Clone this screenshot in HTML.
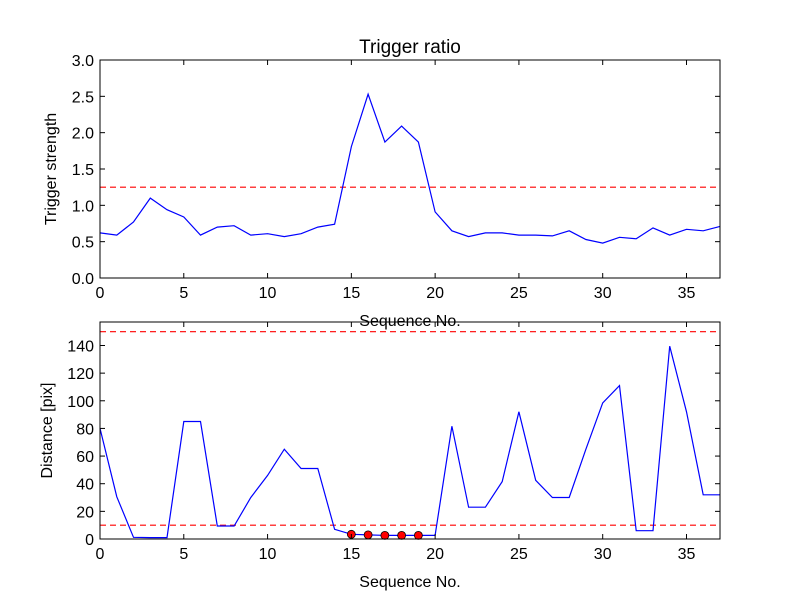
<!DOCTYPE html>
<html><head><meta charset="utf-8"><style>
body{margin:0;background:#fff;}
svg text{font-family:"Liberation Sans",sans-serif;fill:#000;}
</style></head><body>
<svg id="c" width="800" height="600" xmlns="http://www.w3.org/2000/svg">
<rect width="800" height="600" fill="#fff"/>
</svg>
<script>
const seq = [0,1,2,3,4,5,6,7,8,9,10,11,12,13,14,15,16,17,18,19,20,21,22,23,24,25,26,27,28,29,30,31,32,33,34,35,36,37];
const strength = [0.62,0.59,0.77,1.10,0.94,0.84,0.59,0.70,0.72,0.59,0.61,0.57,0.61,0.70,0.74,1.81,2.53,1.87,2.09,1.87,0.91,0.65,0.57,0.62,0.62,0.59,0.59,0.58,0.65,0.53,0.48,0.56,0.54,0.69,0.59,0.67,0.65,0.71];
const distance = [80,30.5,1.2,1,1,85,85,9.4,9.4,30,46,65,51,51,7,3.4,3,2.6,2.6,2.6,2.6,81.6,23,23,41.5,92,42.5,30,30,65,98.5,111,6,6,139.5,92,32,32];
const markedIdx = [15,16,17,18,19];
const strengthThreshold = [1.25];
const distThresholds = [10,150];
const xTicks = [0,5,10,15,20,25,30,35];
const yTicksTop = [0.0,0.5,1.0,1.5,2.0,2.5,3.0];
const yTicksBot = [0,20,40,60,80,100,120,140];

const svg = document.getElementById('c');
const NS = 'http://www.w3.org/2000/svg';
function mk(tag, attrs){const e=document.createElementNS(NS,tag);for(const k in attrs)e.setAttribute(k,attrs[k]);svg.appendChild(e);return e;}

function panel(p){
  const L=100,R=720;
  const xs=v=>L+(v-0)/(37-0)*(R-L);
  const ys=v=>p.bottom-(v-p.ymin)/(p.ymax-p.ymin)*(p.bottom-p.top);
  // thresholds
  p.thr.forEach(t=>{
    const l=mk('line',{x1:L,x2:R,y1:ys(t),y2:ys(t),stroke:'#f00','stroke-width':1.2,'stroke-dasharray':'6,4'});
    
    
  });
  const pts=p.data.map((v,i)=>xs(seq[i]).toFixed(1)+','+ys(v).toFixed(1)).join(' ');
  const pl=mk('polyline',{points:pts,fill:'none',stroke:'#00f','stroke-width':1.2});
  
  
  if(p.marks){p.marks.forEach(i=>{
    const c=mk('circle',{cx:xs(seq[i]),cy:ys(p.data[i]),r:4,fill:'#f00',stroke:'#000','stroke-width':0.8});
    
    
  });}
  const fr=mk('rect',{x:L,y:p.top,width:R-L,height:p.bottom-p.top,fill:'none',stroke:'#000','stroke-width':1});
  
  
  xTicks.forEach(t=>{
    const x=xs(t);
    mk('line',{x1:x,x2:x,y1:p.bottom,y2:p.bottom-5,stroke:'#000'});
    mk('line',{x1:x,x2:x,y1:p.top,y2:p.top+5,stroke:'#000'});
    const tx=mk('text',{x:x,y:p.bottom+20,'font-size':16,'text-anchor':'middle'});
    tx.textContent=t;
    
    
  });
  p.yt.forEach(t=>{
    const y=ys(t);
    mk('line',{x1:L,x2:L+5,y1:y,y2:y,stroke:'#000'});
    mk('line',{x1:R,x2:R-5,y1:y,y2:y,stroke:'#000'});
    const tx=mk('text',{x:L-6,y:y+6,'font-size':16,'text-anchor':'end'});
    tx.textContent=p.fmt(t);
    
    
  });
  const xl=mk('text',{x:410,y:p.bottom+48,'font-size':16,'text-anchor':'middle'});
  xl.textContent='Sequence No.';
  
  
  const cy=(p.top+p.bottom)/2;
  const yl=mk('text',{x:p.ylx,y:cy,'font-size':16,'text-anchor':'middle',transform:'rotate(-90 '+p.ylx+' '+cy+')'});
  yl.textContent=p.ylabel;
  
  
}
panel({name:'top',top:60,bottom:278,ymin:0,ymax:3,data:strength,thr:strengthThreshold,yt:yTicksTop,fmt:t=>t.toFixed(1),ylabel:'Trigger strength',ylx:56});
panel({name:'bottom',top:322,bottom:539,ymin:0,ymax:157,data:distance,thr:distThresholds,yt:yTicksBot,fmt:t=>t,ylabel:'Distance [pix]',ylx:52,marks:markedIdx});
const ti=mk('text',{x:410,y:53,'font-size':19,'text-anchor':'middle'});
ti.textContent='Trigger ratio';


</script>
</body></html>
